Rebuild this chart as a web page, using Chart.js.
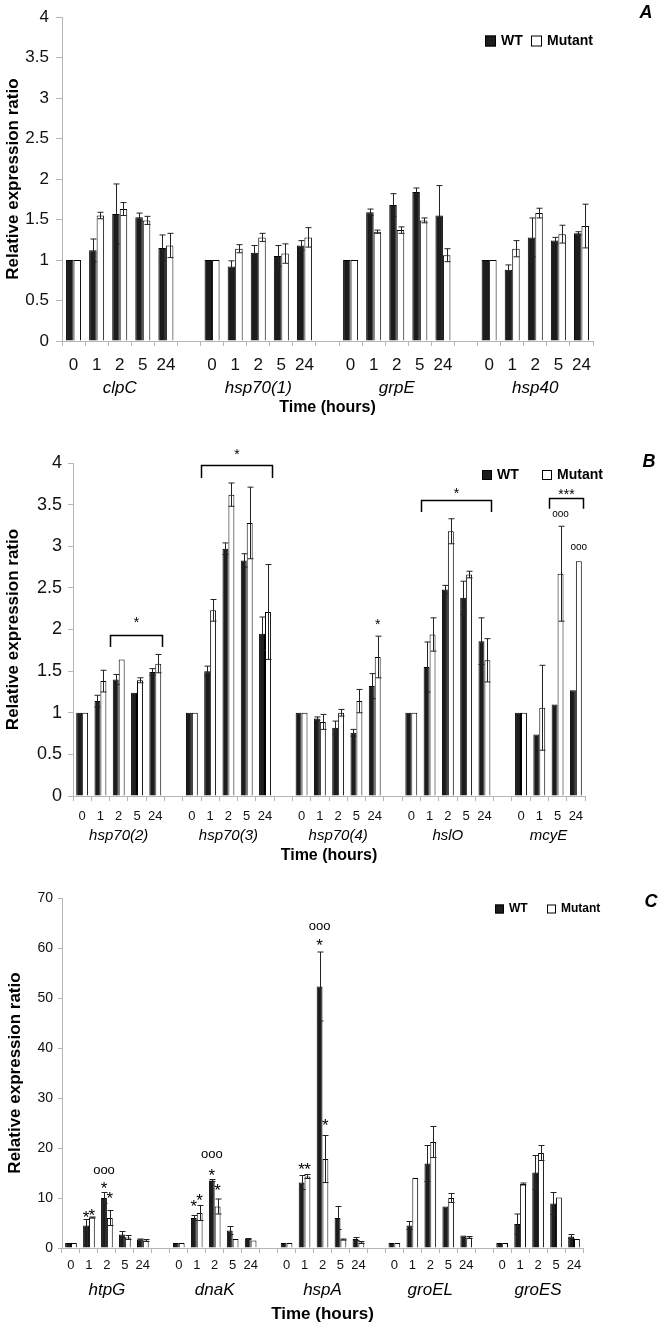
<!DOCTYPE html>
<html>
<head>
<meta charset="utf-8">
<script src="https://cdn.jsdelivr.net/npm/chart.js@4.4.0/dist/chart.umd.min.js"></script>
<style>
  html, body { margin: 0; padding: 0; background: #fff; }
  #wrap { position: relative; width: 663px; height: 1330px; }
  #wrap canvas { position: absolute; left: 0; }
</style>
</head>
<body>
<div id="wrap">
  <canvas id="chartA" width="663" height="420" style="top:0px"></canvas>
  <canvas id="chartB" width="663" height="445" style="top:420px"></canvas>
  <canvas id="chartC" width="663" height="465" style="top:865px"></canvas>
</div>
<script>
const FONT = "'Liberation Sans', Arial, Helvetica, sans-serif";

// time points (x tick labels)
const hours = ['0', '1', '2', '5', '24'];
const hoursMcyE = ['0', '1', '5', '24'];

// ---- Panel A ----
const genesA = ['clpC', 'hsp70(1)', 'grpE', 'hsp40'];
const timesA = [hours, hours, hours, hours];
const wtA = [
  [1, 1.12, 1.57, 1.53, 1.15],
  [1, 0.92, 1.09, 1.05, 1.18],
  [1, 1.59, 1.68, 1.84, 1.55],
  [1, 0.88, 1.28, 1.24, 1.33]
];
const wtErrA = [
  [0, 0.14, 0.37, 0.05, 0.16],
  [0, 0.07, 0.09, 0.13, 0.06],
  [0, 0.04, 0.14, 0.05, 0.37],
  [0, 0.06, 0.24, 0.04, 0.02]
];
const mutA = [
  [1, 1.55, 1.63, 1.49, 1.18],
  [1, 1.14, 1.28, 1.08, 1.28],
  [1, 1.35, 1.37, 1.49, 1.06],
  [1, 1.14, 1.58, 1.32, 1.42]
];
const mutErrA = [
  [0, 0.04, 0.08, 0.05, 0.15],
  [0, 0.05, 0.05, 0.12, 0.12],
  [0, 0.02, 0.04, 0.03, 0.08],
  [0, 0.10, 0.06, 0.11, 0.27]
];

// ---- Panel B ----
const genesB = ['hsp70(2)', 'hsp70(3)', 'hsp70(4)', 'hslO', 'mcyE'];
const timesB = [hours, hours, hours, hours, hoursMcyE];
const wtB = [
  [1, 1.14, 1.40, 1.24, 1.49],
  [1, 1.50, 2.97, 2.83, 1.95],
  [1, 0.93, 0.82, 0.76, 1.32],
  [1, 1.55, 2.48, 2.38, 1.86],
  [1, 0.74, 1.10, 1.27]
];
const wtErrB = [
  [0, 0.07, 0.06, 0, 0.04],
  [0, 0.06, 0.07, 0.08, 0.20],
  [0, 0.02, 0.08, 0.04, 0.15],
  [0, 0.30, 0.05, 0.20, 0.28],
  [0, 0, 0, 0]
];
const mutB = [
  [1, 1.38, 1.64, 1.39, 1.59],
  [1, 2.23, 3.62, 3.28, 2.21],
  [1, 0.89, 1.00, 1.14, 1.67],
  [1, 1.94, 3.18, 2.66, 1.63],
  [1, 1.06, 2.67, 2.82]
];
const mutErrB = [
  [0, 0.13, 0, 0.03, 0.11],
  [0, 0.13, 0.14, 0.43, 0.57],
  [0, 0.09, 0.04, 0.14, 0.25],
  [0, 0.20, 0.15, 0.04, 0.26],
  [0, 0.51, 0.57, 0]
];
// significance marks: gene, time index, dataset (0 WT / 1 Mutant), value level, text
const marksB = [
  { g: 2, t: 4, ds: 1, y: 2.10, text: '*' },
  { g: 4, t: 2, ds: 1, y: 3.38, text: 'ooo' },
  { g: 4, t: 3, ds: 1, y: 2.99, text: 'ooo' }
];
const bracketsB = [
  { g: 0, from: 2, to: 4, y: 1.93, end: 1.79, text: '*', ty: 2.13 },
  { g: 1, from: 1, to: 4, y: 3.97, end: 3.82, text: '*', ty: 4.15 },
  { g: 3, from: 1, to: 4, y: 3.56, end: 3.41, text: '*', ty: 3.68 },
  { g: 4, from: 2, to: 3, y: 3.58, end: 3.45, text: '***', ty: 3.67 }
];

// ---- Panel C ----
const genesC = ['htpG', 'dnaK', 'hspA', 'groEL', 'groES'];
const timesC = [hours, hours, hours, hours, hours];
const wtC = [
  [1, 4.5, 10.0, 2.7, 1.7],
  [1, 6.0, 13.5, 3.5, 1.8],
  [1, 13.1, 52.3, 6.0, 1.8],
  [1, 4.5, 16.9, 8.3, 2.5],
  [1, 4.8, 15.1, 8.9, 2.3]
];
const wtErrC = [
  [0, 1.2, 1.1, 0.6, 0.1],
  [0, 0.5, 0.2, 0.8, 0.1],
  [0, 1.4, 6.9, 2.3, 0.3],
  [0, 0.8, 3.6, 0, 0],
  [0, 2.0, 3.4, 2.2, 0.4]
];
const mutC = [
  [1, 6.1, 6.0, 2.1, 1.5],
  [1, 7.0, 8.3, 1.8, 1.5],
  [1, 14.3, 17.8, 1.7, 1.1],
  [1, 14.0, 21.2, 10.0, 2.1],
  [1, 12.8, 19.0, 10.1, 1.8]
];
const mutErrC = [
  [0, 0.1, 1.5, 0.4, 0.2],
  [0, 1.5, 1.5, 0, 0],
  [0, 0.4, 4.7, 0.1, 0.2],
  [0, 0, 3.1, 0.9, 0.2],
  [0, 0.2, 1.5, 0, 0]
];
const marksC = [
  { g: 0, t: 1, ds: 0, y: 7.0, text: '*' },
  { g: 0, t: 1, ds: 1, y: 7.3, text: '*' },
  { g: 0, t: 2, ds: 0, y: 12.7, text: '*' },
  { g: 0, t: 2, ds: 1, y: 10.8, text: '*' },
  { g: 0, t: 2, ds: 0, y: 15.5, text: 'ooo' },
  { g: 1, t: 1, ds: 0, y: 9.1, text: '*' },
  { g: 1, t: 1, ds: 1, y: 10.3, text: '*' },
  { g: 1, t: 2, ds: 0, y: 15.3, text: '*' },
  { g: 1, t: 2, ds: 1, y: 12.3, text: '*' },
  { g: 1, t: 2, ds: 0, y: 18.7, text: 'ooo' },
  { g: 2, t: 1, ds: 0, y: 16.5, text: '*' },
  { g: 2, t: 1, ds: 1, y: 16.5, text: '*' },
  { g: 2, t: 2, ds: 0, y: 61.3, text: '*' },
  { g: 2, t: 2, ds: 0, y: 64.3, text: 'ooo' },
  { g: 2, t: 2, ds: 1, y: 25.3, text: '*' }
];

// glyph centre above the alphabetic baseline, in em
function glyphShift(text) {
  if (/^\*+$/.test(text)) return 0.58;
  if (/^o+$/.test(text)) return 0.27;
  return 0.36;
}

const errorBars = {
  id: 'errorBars',
  afterDatasetsDraw(chart) {
    const { ctx } = chart;
    const y = chart.scales.y;
    chart.data.datasets.forEach((ds, di) => {
      const meta = chart.getDatasetMeta(di);
      meta.data.forEach((bar, i) => {
        const v = ds.data[i], e = ds.errors[i];
        if (v == null || !e) return;
        const x = Math.round(bar.x) + 0.5;
        const top = y.getPixelForValue(v + e);
        const bot = y.getPixelForValue(v - e);
        ctx.save();
        ctx.strokeStyle = '#222';
        ctx.lineWidth = 1;
        ctx.beginPath();
        ctx.moveTo(x, top); ctx.lineTo(x, bot);
        ctx.moveTo(x - 3, top); ctx.lineTo(x + 3, top);
        ctx.moveTo(x - 3, bot); ctx.lineTo(x + 3, bot);
        ctx.stroke();
        ctx.restore();
      });
    });
  }
};

const overlay = {
  id: 'overlay',
  afterDraw(chart, args, o) {
    const { ctx } = chart;
    const { x, y } = chart.scales;
    const bar = (ds, g, t) => chart.getDatasetMeta(ds).data[o.starts[g] + t];
    ctx.save();
    ctx.fillStyle = '#000';
    ctx.textAlign = 'center';

    // gene names under the time ticks
    ctx.textBaseline = 'middle';
    ctx.font = `italic ${o.geneSize}px ${FONT}`;
    o.genes.forEach((g, gi) => {
      const c = o.starts[gi] + (o.counts[gi] - 1) / 2;
      ctx.fillText(g, x.getPixelForValue(c), o.geneY);
    });

    // panel letter
    ctx.font = `italic bold 18px ${FONT}`;
    ctx.fillText(o.letter.text, o.letter.x, o.letter.y);

    // legend
    ctx.font = `bold ${o.legend.size}px ${FONT}`;
    ctx.textAlign = 'left';
    chart.data.datasets.forEach((ds, di) => {
      const lx = o.legend.x[di], b = o.legend.box;
      ctx.fillStyle = ds.backgroundColor;
      ctx.fillRect(lx, o.legend.y - b / 2, b, b);
      ctx.strokeStyle = '#000';
      ctx.lineWidth = 1;
      ctx.strokeRect(lx + 0.5, o.legend.y - b / 2 + 0.5, b - 1, b - 1);
      ctx.fillStyle = '#000';
      ctx.fillText(ds.label, lx + b + 5, o.legend.y);
    });

    // significance marks
    ctx.textAlign = 'center';
    ctx.textBaseline = 'alphabetic';
    (o.marks || []).forEach(m => {
      const el = bar(m.ds, m.g, m.t);
      const size = m.text === 'ooo' ? o.oooSize : o.starSize;
      ctx.font = `${size}px ${FONT}`;
      ctx.fillText(m.text, el.x, y.getPixelForValue(m.y) + glyphShift(m.text) * size);
    });

    // brackets
    ctx.strokeStyle = '#000';
    ctx.lineWidth = 1.5;
    (o.brackets || []).forEach(b => {
      const a = bar(0, b.g, b.from), z = bar(1, b.g, b.to);
      const x1 = Math.round(a.x - a.width / 2 - 3) + 0.5;
      const x2 = Math.round(z.x + z.width / 2 + 1) + 0.5;
      const yb = Math.round(y.getPixelForValue(b.y)) + 0.5;
      const ye = y.getPixelForValue(b.end);
      ctx.beginPath();
      ctx.moveTo(x1, ye); ctx.lineTo(x1, yb); ctx.lineTo(x2, yb); ctx.lineTo(x2, ye);
      ctx.stroke();
      ctx.font = `${o.starSize}px ${FONT}`;
      ctx.fillText(b.text, (x1 + x2) / 2, y.getPixelForValue(b.ty) + glyphShift(b.text) * o.starSize);
    });
    ctx.restore();
  }
};

function spread(rows) {
  const out = [];
  rows.forEach((r, i) => { if (i) out.push(null); out.push(...r); });
  return out;
}

function makePanel(id, p) {
  const labels = [], starts = [];
  p.genes.forEach((g, gi) => {
    if (gi) labels.push('');
    starts.push(labels.length);
    labels.push(...p.times[gi]);
  });
  const axisGrey = '#b5b5b5';
  return new Chart(document.getElementById(id), {
    type: 'bar',
    data: {
      labels,
      datasets: [
        { label: 'WT', data: spread(p.wt), errors: spread(p.wtErr),
          backgroundColor: '#1c1c1c', borderColor: '#000', borderWidth: 1 },
        { label: 'Mutant', data: spread(p.mut), errors: spread(p.mutErr),
          backgroundColor: '#ffffff', borderColor: '#000', borderWidth: 1 }
      ]
    },
    plugins: [errorBars, overlay],
    options: {
      responsive: false,
      animation: false,
      categoryPercentage: 0.65,
      barPercentage: 1,
      layout: { padding: { left: 0, right: p.padRight, top: p.padTop, bottom: 0 } },
      plugins: {
        legend: { display: false },
        tooltip: { enabled: false },
        overlay: {
          genes: p.genes, starts, counts: p.times.map(t => t.length),
          geneY: p.geneY, geneSize: p.geneSize,
          letter: p.letter, legend: p.legend,
          marks: p.marks, brackets: p.brackets,
          starSize: p.starSize, oooSize: p.oooSize
        }
      },
      scales: {
        x: {
          offset: true,
          grid: { display: true, offset: true, drawOnChartArea: false, tickLength: 5, color: axisGrey },
          border: { display: true, color: axisGrey },
          ticks: { autoSkip: false, maxRotation: 0, minRotation: 0, padding: p.xPad, color: '#111',
                   font: { family: FONT, size: p.xSize, lineHeight: 1.2 } },
          title: { display: true, text: 'Time (hours)', color: '#000',
                   font: { family: FONT, size: p.titleSize, weight: 'bold', lineHeight: 1.2 },
                   padding: { top: 0, bottom: p.titlePad } },
          afterFit: s => { s.height = p.xHeight; }
        },
        y: {
          min: 0, max: p.yMax,
          grid: { drawOnChartArea: false, tickLength: p.yTick, color: axisGrey },
          border: { display: true, color: axisGrey },
          ticks: { stepSize: p.yStep, padding: p.yPad, color: '#111',
                   callback: v => String(Math.round(v * 100) / 100),
                   font: { family: FONT, size: p.ySize, lineHeight: 1.2 } },
          title: { display: true, text: 'Relative expression ratio', color: '#000',
                   font: { family: FONT, size: 17, weight: 'bold', lineHeight: 1.2 },
                   padding: { top: p.yTitlePad, bottom: 0 } },
          afterFit: s => { s.width = p.yWidth; }
        }
      }
    }
  });
}

makePanel('chartA', {
  genes: genesA, times: timesA, wt: wtA, wtErr: wtErrA, mut: mutA, mutErr: mutErrA,
  yMax: 4, yStep: 0.5,
  padRight: 70, padTop: 11, xHeight: 79, yWidth: 62,
  xSize: 17, xPad: 9, ySize: 17, yTick: 6, yPad: 7, yTitlePad: 3,
  titleSize: 16, titlePad: 3, geneY: 388, geneSize: 17,
  letter: { text: 'A', x: 646, y: 13 },
  legend: { x: [485, 531], y: 41, box: 11, size: 14 },
  starSize: 14, oooSize: 11
});

makePanel('chartB', {
  genes: genesB, times: timesB, wt: wtB, wtErr: wtErrB, mut: mutB, mutErr: mutErrB,
  yMax: 4, yStep: 0.5,
  padRight: 78, padTop: 43, xHeight: 69, yWidth: 73,
  xSize: 13, xPad: 8, ySize: 18, yTick: 5, yPad: 6, yTitlePad: 3,
  titleSize: 16, titlePad: 0, geneY: 416, geneSize: 15,
  letter: { text: 'B', x: 649, y: 42 },
  legend: { x: [482, 542], y: 55, box: 10, size: 14 },
  marks: marksB, brackets: bracketsB,
  starSize: 14, oooSize: 10
});

makePanel('chartC', {
  genes: genesC, times: timesC, wt: wtC, wtErr: wtErrC, mut: mutC, mutErr: mutErrC,
  yMax: 70, yStep: 10,
  padRight: 80, padTop: 33, xHeight: 82, yWidth: 62,
  xSize: 13, xPad: 5, ySize: 14, yTick: 4, yPad: 5, yTitlePad: 5,
  titleSize: 17, titlePad: 5, geneY: 425, geneSize: 17,
  letter: { text: 'C', x: 651, y: 37 },
  legend: { x: [495, 547], y: 44, box: 9, size: 12 },
  marks: marksC,
  starSize: 17, oooSize: 13
});
</script>
</body>
</html>
